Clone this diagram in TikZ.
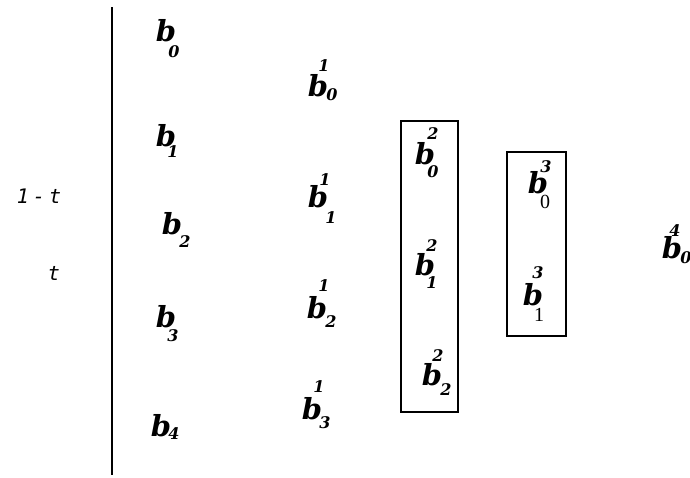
\documentclass[tikz,border=0pt]{standalone}
\usepackage{fontspec}
\setmainfont{DejaVu Serif}
\newfontfamily\romanfont{Liberation Serif}
\newfontfamily\parfont{DejaVu Sans Mono}
\tikzset{
  bvec/.style={inner sep=0pt, font=\fontsize{29}{29}\selectfont\bfseries\itshape},
  idx/.style={inner sep=0pt, font=\fontsize{16}{16}\selectfont\bfseries\itshape},
  ridx/.style={inner sep=0pt, font=\fontsize{20}{20}\selectfont\romanfont},
  param/.style={inner sep=0pt, font=\fontsize{20}{20}\selectfont\parfont\itshape},
  stage/.style={draw, line width=1.5pt}
}
\begin{document}
\begin{tikzpicture}[x=1pt, y=-1pt]
\useasboundingbox (0,0) rectangle (690,477);

% divider between parameters and control points
\coordinate (top) at (111.5,7);
\coordinate (bot) at (111.5,475);
\draw[line width=2pt] (top) -- (bot);

% interpolation weights
\node[param] (w1) at (39,196) {1\kern4pt-\kern4pt t};
\node[param] (w2) at (54,273) {t};

% level 0
\node[bvec] (b0) at (166,31) {b};  \node[idx] (b0s) at (174,52) {0};
\node[bvec] (b1) at (166,136) {b}; \node[idx] (b1s) at (173,152) {1};
\node[bvec] (b2) at (172,224) {b}; \node[idx] (b2s) at (185,242) {2};
\node[bvec] (b3) at (166,317) {b}; \node[idx] (b3s) at (173,336) {3};
\node[bvec] (b4) at (161,426) {b}; \node[idx] (b4s) at (174,434) {4};

% level 1
\node[bvec] (c0) at (318,86) {b};  \node[idx] (c0u) at (324,66) {1};  \node[idx] (c0s) at (332,95) {0};
\node[bvec] (c1) at (318,197) {b}; \node[idx] (c1u) at (325,180) {1}; \node[idx] (c1s) at (331,218) {1};
\node[bvec] (c2) at (317,308) {b}; \node[idx] (c2u) at (324,286) {1}; \node[idx] (c2s) at (331,322) {2};
\node[bvec] (c3) at (312,409) {b}; \node[idx] (c3u) at (319,387) {1}; \node[idx] (c3s) at (325,423) {3};

% level 2
\node[bvec] (d0) at (425,154) {b}; \node[idx] (d0u) at (433,134) {2}; \node[idx] (d0s) at (433,172) {0};
\node[bvec] (d1) at (425,265) {b}; \node[idx] (d1u) at (432,246) {2}; \node[idx] (d1s) at (432,283) {1};
\node[bvec] (d2) at (432,375) {b}; \node[idx] (d2u) at (438,356) {2}; \node[idx] (d2s) at (446,390) {2};
\draw[stage] (401,121) rectangle (458,412);

% level 3
\node[bvec] (e0) at (538,183) {b}; \node[idx] (e0u) at (546,167) {3}; \node[ridx] (e0s) at (545,202) {0};
\node[bvec] (e1) at (533,295) {b}; \node[idx] (e1u) at (538,273) {3}; \node[ridx] (e1s) at (539,315) {1};
\draw[stage] (507,152) rectangle (566,336);

% level 4
\node[bvec] (f0) at (672,248) {b}; \node[idx] (f0u) at (675,231) {4}; \node[idx] (f0s) at (686,258) {0};
\end{tikzpicture}
\end{document}
